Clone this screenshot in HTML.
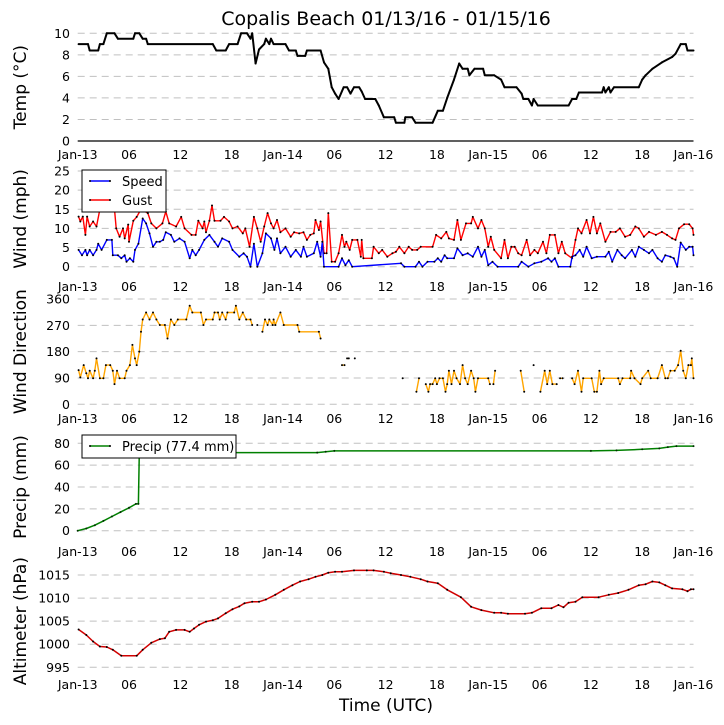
<!DOCTYPE html>
<html><head><meta charset="utf-8"><title>Copalis Beach</title>
<style>
body{margin:0;background:#fff;}
svg{display:block;font-family:"DejaVu Sans","Liberation Sans",sans-serif;}
</style></head>
<body>
<svg id="chart" width="724" height="725" viewBox="0 0 724 725" xmlns="http://www.w3.org/2000/svg">
<rect width="724" height="725" fill="#fff"/>
<text x="386" y="25" font-size="19" text-anchor="middle">Copalis Beach 01/13/16 - 01/15/16</text>
<text x="386" y="711" font-size="17" text-anchor="middle">Time (UTC)</text>
<g id="plots"></g>
</svg>
<script>
// ---- shared x ticks (hours since Jan-13 00:00 UTC) ----
const xTickHours = [0,6,12,18,24,30,36,42,48,54,60,66,72];
const xTickLabels = ["Jan-13","06","12","18","Jan-14","06","12","18","Jan-15","06","12","18","Jan-16"];

// ---- temperature ----
const tempHours = [0.1,1.2,1.4,2.4,2.6,3,3.4,4.3,4.7,6.5,6.7,7.2,7.6,8,8.2,15.8,16.2,17.3,17.7,18.7,19.1,19.8,20.2,20.4,20.8,21.2,21.8,22,22.4,22.6,22.9,24.3,24.7,25.5,25.7,26.6,26.8,28.4,28.8,29.3,29.7,30.1,30.5,31.1,31.5,31.9,32.3,32.9,33.2,33.6,34.8,35.2,35.8,37,37.2,38.2,38.3,39.1,39.5,41.5,42.1,42.7,43.2,44,44.6,45,45.6,45.8,46.4,47.4,47.6,48.7,49.5,49.9,51.3,51.9,52.1,52.7,53.1,53.3,53.8,57.4,57.8,58.3,58.6,61.3,61.5,61.7,62.1,62.3,62.7,65.6,66,66.4,67.2,68.3,69.5,69.9,70.5,71.1,71.3,72];
const tempValues = [9,9,8.4,8.4,9,9,10,10,9.5,9.5,10,10,9.5,9.5,9,9,8.4,8.4,9,9,10,10,9.5,10,7.2,8.5,9,9.5,9,9.5,9,9,8.4,8.4,7.9,7.9,8.4,8.4,7.3,6.7,5,4.4,3.9,5,5,4.4,5,5,4.6,3.9,3.9,3.3,2.2,2.2,1.7,1.7,2.2,2.2,1.7,1.7,2.8,2.8,4,5.7,7.2,6.7,6.7,6.1,6.7,6.7,6.1,6.1,5.7,5,5,4.4,3.9,3.9,3.3,3.9,3.3,3.3,3.9,3.9,4.5,4.5,5,4.5,5,4.5,5,5,5.7,6.1,6.7,7.3,7.8,8.1,9,9,8.4,8.4];

// ---- wind speed / gust ----
const speedHours = [0.1,0.5,0.9,1.1,1.4,1.8,2.2,2.4,2.8,3.4,4,4.1,4.7,5.1,5.5,5.7,6.1,6.5,6.7,7.1,7.6,8,8.4,8.8,9.2,9.6,10,10.3,10.9,11.3,11.9,12.5,13.1,13.4,13.8,14.2,14.8,15.4,16,16.4,16.9,17.7,18.1,18.9,19.4,19.8,20.2,20.6,21,21.6,22,22.6,23,23.3,23.7,24.3,24.9,25.5,26.1,26.4,26.8,27.6,28,28.4,28.6,28.8,30.5,30.9,31.3,31.7,32.1,37.8,38.2,39.5,39.9,40.3,40.9,41.7,42.1,42.5,42.9,43.2,44,44.4,45,45.6,46.2,46.8,47.2,47.6,48,48.5,49.1,51.5,51.9,52.7,53.4,54.2,55,55.4,55.8,56.2,57.6,57.8,58.2,58.7,59.1,59.5,60.1,60.7,61.7,62.1,62.5,63.1,63.6,64,64.8,65.2,65.6,66.2,66.8,67.2,67.8,68.3,68.7,69.3,69.7,70.1,70.5,71.1,71.5,71.9,72];
const speedValues = [4.4,3,4.4,3,4.4,3,4.4,6,4.4,7,7,3,3,2.2,3,1.3,2.2,1.3,4.4,6,12.6,11.3,8.7,5.2,6.5,6.5,7,9,8.3,6.5,7.4,6.5,2.2,4.4,3,4.4,7,8.3,6.5,5.2,7.4,6.5,4.4,2.6,3.5,2.6,0,6,0,3.5,8.7,7.4,4.4,7.4,3.5,5.2,2.6,4.4,2.6,5.2,2.6,3.5,6.5,2.6,6.5,0,0,2.2,0.4,1.7,0,0.9,0,0,1.3,0,1.3,1.3,2.2,1.3,3,2.2,2.2,4.8,3,3.5,2.6,5.2,2.6,4.4,0.4,1.3,0,0,1.3,0,0.9,1.3,2.2,1.3,2.2,0,0,2.6,3,4.4,2.6,5.2,2.2,2.6,2.6,3.9,1.3,4.4,3,2.2,4.4,2.6,5.2,4.4,3.5,4.4,2.2,1.3,3,2.6,2.2,0,6.3,4.4,5.2,5.2,3];
const gustHours = [0.1,0.3,0.6,0.9,1.1,1.4,1.8,2.2,2.6,3.2,3.8,4.3,4.5,4.9,5.3,5.5,5.9,6.0,6.5,6.9,7.4,8.2,8.6,9.2,9.9,10.3,10.7,11.5,12.1,12.5,13.3,13.8,14.1,14.6,14.8,15,15.4,15.7,16,16.7,17.1,17.7,18.1,18.7,19.3,19.6,20.1,20.6,21,21.4,21.8,22.2,22.6,22.9,23.3,23.7,24.3,24.9,25.3,25.9,26.4,26.8,27.2,27.6,27.8,28.2,28.4,28.8,29.1,29.3,29.7,30.1,30.5,30.9,31.2,31.4,31.8,32.1,32.7,33.1,33.2,33.4,34.4,34.6,35.2,35.6,36.2,36.8,37.2,37.6,38.2,38.7,39.1,39.7,40.1,41.5,41.9,42.5,43.1,43.4,44,44.4,44.8,45.4,46,46.2,46.8,47.2,47.6,48,48.3,48.7,49.5,49.9,50.3,50.7,51.1,51.5,51.9,52.5,52.9,53.4,53.8,54.4,54.8,55.2,55.8,56.2,56.6,57,57.8,58.2,58.5,58.9,59.5,59.9,60.3,60.7,61.1,61.7,62.3,62.9,63.4,64,64.6,65.2,65.6,66.2,66.8,67.6,68.3,68.9,69.5,69.9,70.3,70.9,71.5,71.9,72];
const gustValues = [13.1,11.8,13.1,8.3,13.1,10.5,11.8,10.5,15,14.5,15,15,10,7.8,10,7.4,11,6.5,12,13,15,14,11.3,10,11.3,14.4,11.3,10.5,13,10,8.3,8.3,12,10,11.8,9,12,16,12,12,13,11.8,10,10.5,8.7,10,5.2,13,10,6.5,10.5,14,11.3,10,12.2,9,10,7.8,9,8.7,9,7,8.3,8.7,12.2,9.6,11.8,3.5,3.5,14,1.3,1.3,3.5,8.3,5.2,6.5,4.4,7,7,2.6,7,2.2,2.2,5.2,3.5,4.4,2.6,3.5,3.9,5.2,3.5,5.2,4.4,4.4,5.2,5.2,8.3,7.4,9.1,7.4,7,12.2,7,11.3,11.3,13,10,12.2,10,5.2,7.8,4.4,2.2,7,2.2,5.2,5.2,3.5,3,7,3,4.4,3.5,6.5,3.5,8.3,8.3,3.5,6.5,3.5,2.2,7,10,8.7,12.2,8.7,13,8.7,11.3,6.5,9.1,9.1,10,7.8,8.3,10.5,10,7.8,9.1,8.3,9.1,8.3,7.4,7,10,11.1,11.1,10,8.3];

// ---- wind direction (null = gap) ----
const dirHours = [0.1,0.3,0.7,1,1.2,1.4,1.8,2,2.2,2.6,3,3.3,3.8,4.1,4.3,4.6,4.9,5.5,5.7,6.1,6.4,6.7,6.9,7.2,7.4,7.6,8,8.4,8.8,9.2,9.6,10.2,10.5,10.9,11.3,11.7,12.7,13.1,13.4,14.4,14.7,15,15.8,16,16.4,16.6,16.9,17.3,17.5,18.3,18.5,18.9,19.3,19.7,20.2,20.4,20.6,21,21.2,21.6,21.9,22.2,22.4,22.8,22.9,23.1,23.7,24.1,25.7,25.9,28.2,28.4,28.6,30.9,31.2,31.3,31.5,31.7,31.9,32.4,32.6,38,38.2,39.6,39.9,40.2,40.7,41,41.2,41.5,41.8,42,42.3,42.7,43,43.2,43.4,43.7,44,44.3,44.7,45,45.3,45.6,46,46.3,46.5,46.8,48,48.2,48.4,48.6,48.8,49,51.8,52.2,52.4,53.3,53.5,54.1,54.6,54.9,55.2,55.5,56,56.2,56.4,56.7,57,57.8,58.1,58.5,58.9,59.1,60.1,60.4,60.7,61,61.2,61.5,63.2,63.4,63.7,64.6,64.7,65.1,65.8,66,66.7,67,67.8,68.3,68.7,69,69.3,69.8,70.2,70.5,70.8,71.1,71.4,71.7,71.8,72];
const dirValues = [117,92,134,106,89,115,89,115,157,89,89,134,134,115,69,115,89,89,115,134,203,157,134,180,248,290,314,290,314,290,271,271,225,290,271,290,290,337,314,314,271,290,290,314,314,290,314,290,314,314,337,290,314,290,290,271,null,271,null,248,290,271,290,271,290,271,314,271,271,248,248,225,null,134,134,null,157,157,null,157,null,89,null,43,89,null,69,43,69,69,89,69,89,89,43,69,115,69,115,89,69,134,89,69,115,89,43,89,89,69,null,69,115,null,115,43,null,134,null,43,115,69,115,69,69,null,89,89,null,89,69,115,43,89,89,43,43,115,69,89,89,69,89,89,115,89,69,89,115,89,89,134,89,89,115,115,134,183,115,89,134,134,157,89];

// ---- precipitation ----
const precipHours = [0,1,2,3,4,5,6,6.8,7.1,7.2,28,29,30,60,63,66,68,69,70,72];
const precipValues = [0,2,5,9,13,17,21,24.5,24.5,71.5,71.5,72.2,73,73,73.5,74.5,75.3,76.5,77.4,77.4];

// ---- altimeter ----
const altHours = [0.1,1,1.8,2.6,3.4,4.1,5.1,6.9,7.6,8.6,9.6,10.2,10.7,11.5,12.5,13.1,13.6,14.2,15,15.8,16.4,17.3,18.1,18.9,19.5,20.4,21.2,22,23.1,24.1,25.1,26,27,27.8,28.6,29.3,30.1,30.9,32.3,33.8,34.6,35.8,36.6,37.8,38.9,40.1,40.9,42.1,43.2,44.8,46,47.2,48.7,49.5,50.3,52.3,53.1,54.2,55.4,56.2,56.8,57.4,58.2,59,60.9,62.1,63.2,64.4,65.6,66.4,67.2,68,68.7,69.5,70.7,71.3,71.7,72];
const altValues = [1003.2,1002,1000.6,999.5,999.4,998.8,997.5,997.5,998.8,1000.3,1001.1,1001.3,1002.7,1003.1,1003.1,1002.7,1003.4,1004.2,1004.9,1005.2,1005.6,1006.7,1007.6,1008.2,1008.9,1009.2,1009.2,1009.7,1010.7,1011.8,1012.8,1013.6,1014.1,1014.6,1015,1015.5,1015.7,1015.7,1016,1016,1016,1015.7,1015.4,1015,1014.6,1014.1,1013.6,1013.2,1011.8,1010.2,1008.1,1007.4,1006.8,1006.8,1006.6,1006.6,1006.8,1007.8,1007.8,1008.5,1008,1009,1009.2,1010.2,1010.2,1010.7,1011.1,1011.8,1012.8,1013,1013.6,1013.4,1012.8,1012.1,1011.9,1011.5,1011.9,1011.9];

// ---- axis ticks ----
const tempTicks = [0,2,4,6,8,10];
const windTicks = [0,5,10,15,20,25];
const dirTicks = [0,90,180,270,360];
const precipTicks = [0,20,40,60,80];
const altTicks = [995,1000,1005,1010,1015];

const NS = "http://www.w3.org/2000/svg";
const root = document.getElementById("plots");
const X0 = 77.7, X1 = 693.5;
function xScale(h){ return X0 + (X1 - X0) * h / 72; }
function mk(tag, attrs, parent){
  const e = document.createElementNS(NS, tag);
  for (const k in attrs) e.setAttribute(k, attrs[k]);
  (parent || root).appendChild(e);
  return e;
}
function yScaleFactory(vmin, vmax, ymin, ymax){ return v => ymin + (ymax - ymin) * (v - vmin) / (vmax - vmin); }

function panel(name, ticks, vmin, vmax, ytop, ybot, title, labelY, solidZero){
  const g = mk("g", {});
  
  
  const ys = yScaleFactory(vmin, vmax, ybot, ytop);
  ticks.forEach((t, i) => {
    const y = ys(t);
    const ln = mk("line", {x1: X0, x2: X1, y1: y, y2: y, stroke: (solidZero && i === 0) ? "#000" : "#c0c0c0", "stroke-width": (solidZero && i === 0) ? 1.2 : 1, "stroke-dasharray": (solidZero && i === 0) ? "none" : "7,5"}, g);
    
    
    const tx = mk("text", {x: 70, y: y + 4.5, "font-size": 12.5, "text-anchor": "end"}, g);
    tx.textContent = t;
    
    
  });
  xTickHours.forEach((h, i) => {
    const tx = mk("text", {x: xScale(h), y: labelY, "font-size": 12.5, "text-anchor": "middle"}, g);
    tx.textContent = xTickLabels[i];
    
    
  });
  const cy = (ytop + ybot) / 2;
  const yt = mk("text", {x: 0, y: 0, "font-size": 17, "text-anchor": "middle", transform: "translate(26," + cy + ") rotate(-90)"}, g);
  yt.textContent = title;
  
  
  return {g, ys};
}

function series(p, name, hours, values, color, width, dotColor){
  let d = "", pen = false;
  hours.forEach((h, i) => {
    const v = values[i];
    if (v === null) { pen = false; return; }
    d += (pen ? "L" : "M") + xScale(h).toFixed(1) + " " + p.ys(v).toFixed(1);
    pen = true;
  });
  const path = mk("path", {d: d, fill: "none", stroke: color, "stroke-width": width, "stroke-linejoin": "round"}, p.g);
  
  
  const dg = mk("g", {fill: dotColor}, p.g);
  
  
  hours.forEach((h, i) => {
    const v = values[i];
    if (v === null) return;
    mk("circle", {cx: xScale(h).toFixed(1), cy: p.ys(v).toFixed(1), r: 1}, dg);
  });
}

function legend(p, name, x, y, w, h, entries){
  const g = mk("g", {}, p.g);
  
  
  mk("rect", {x: x, y: y, width: w, height: h, fill: "#fff", stroke: "#000", "stroke-width": 1}, g);
  entries.forEach((e, i) => {
    const ly = y + 11 + i * 19;
    const eg = mk("g", {}, g);
    
    
    mk("line", {x1: x + 8, x2: x + 28, y1: ly, y2: ly, stroke: e.c, "stroke-width": 1.5}, eg);
    mk("circle", {cx: x + 8, cy: ly, r: 1}, eg);
    mk("circle", {cx: x + 28, cy: ly, r: 1}, eg);
    const t = mk("text", {x: x + 40, y: ly + 5, "font-size": 13}, eg);
    t.textContent = e.t;
  });
}

const pT = panel("temperature", tempTicks, 0, 10, 33.3, 141, "Temp (\u00B0C)", 159, true);
series(pT, "temperature", tempHours, tempValues, "#000", 2, "#000");

const pW = panel("wind-speed", windTicks, 0, 25, 171, 266.7, "Wind (mph)", 291, false);
series(pW, "wind-gust", gustHours, gustValues, "#f00", 1.4, "#000");
series(pW, "wind-speed", speedHours, speedValues, "#00f", 1.4, "#000");
legend(pW, "wind-legend", 82, 170, 84, 42, [{t: "Speed", c: "#00f"}, {t: "Gust", c: "#f00"}]);

const pD = panel("wind-direction", dirTicks, 0, 360, 299, 404.3, "Wind Direction", 423, false);
series(pD, "wind-direction", dirHours, dirValues, "#ffa500", 1.4, "#000");

const pP = panel("precipitation", precipTicks, 0, 80, 443.3, 530.7, "Precip (mm)", 556, false);
series(pP, "precipitation", precipHours, precipValues, "#008000", 1.5, "#003000");
legend(pP, "precip-legend", 82, 435, 154, 23, [{t: "Precip (77.4 mm)", c: "#008000"}]);

const pA = panel("altimeter", altTicks, 995, 1015, 575, 667.3, "Altimeter (hPa)", 689, false);
series(pA, "altimeter", altHours, altValues, "#d00000", 1.5, "#000");
</script>
</body></html>
